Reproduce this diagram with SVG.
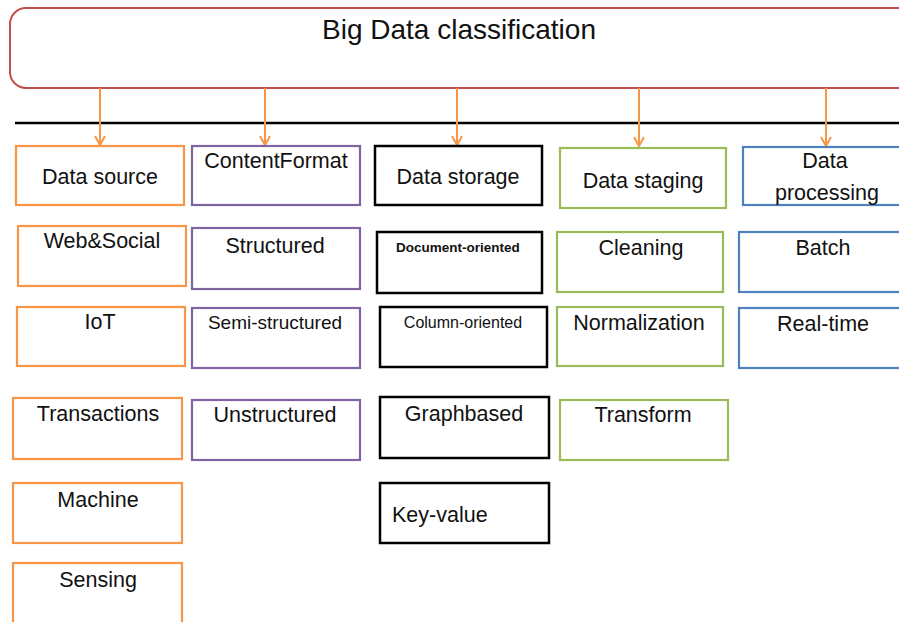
<svg xmlns="http://www.w3.org/2000/svg" width="899" height="622" viewBox="0 0 899 622">
<defs>
<marker id="arr" markerWidth="12" markerHeight="12" refX="10" refY="6" orient="auto" markerUnits="userSpaceOnUse">
<polyline points="1,1 10,6 1,11" fill="none" stroke="#f79646" stroke-width="2"/>
</marker>
<style>
rect{fill:#fff}
.or{stroke:#f79646;stroke-width:2.2}
.pu{stroke:#8064a2;stroke-width:2.2}
.bk{stroke:#000;stroke-width:2.5}
.gr{stroke:#9bbb59;stroke-width:2.2}
.bl{stroke:#4f81bd;stroke-width:2.2}
text{font-family:"Liberation Sans",Arial,sans-serif;font-size:21.5px;fill:#111;text-anchor:middle}
.conn{stroke:#f79646;stroke-width:2;fill:none}
</style>
</defs>
<rect width="899" height="622" fill="#fff"/>
<g id="title">
<rect x="10" y="8" width="920" height="80" rx="16" ry="16" style="fill:#fff;stroke:#c0504d;stroke-width:2"/>
<text x="459" y="39" style="font-size:28px">Big Data classification</text>
</g>
<line x1="15" y1="123" x2="899" y2="123" stroke="#000" stroke-width="2.5"/>
<g id="connectors">
<line class="conn" x1="100" y1="88" x2="100" y2="145" marker-end="url(#arr)"/>
<line class="conn" x1="265" y1="88" x2="265" y2="145" marker-end="url(#arr)"/>
<line class="conn" x1="457" y1="88" x2="457" y2="145" marker-end="url(#arr)"/>
<line class="conn" x1="639" y1="88" x2="639" y2="146" marker-end="url(#arr)"/>
<line class="conn" x1="826" y1="88" x2="826" y2="146" marker-end="url(#arr)"/>
</g>
<g id="data-source"><rect class="or" x="16" y="146" width="168" height="59"/><text x="100" y="184">Data source</text></g>
<g id="web-social"><rect class="or" x="18" y="226" width="168" height="60"/><text x="102" y="248">Web&amp;Social</text></g>
<g id="iot"><rect class="or" x="17" y="307" width="168" height="59"/><text x="100" y="329">IoT</text></g>
<g id="transactions"><rect class="or" x="13" y="398" width="169" height="61"/><text x="98" y="421">Transactions</text></g>
<g id="machine"><rect class="or" x="13" y="483" width="169" height="60"/><text x="98" y="507">Machine</text></g>
<g id="sensing"><rect class="or" x="13" y="563" width="169" height="70"/><text x="98" y="587">Sensing</text></g>

<g id="content-format"><rect class="pu" x="192" y="146" width="168" height="59"/><text x="276" y="168">ContentFormat</text></g>
<g id="structured"><rect class="pu" x="192" y="228" width="168" height="61"/><text x="275" y="253">Structured</text></g>
<g id="semi-structured"><rect class="pu" x="192" y="308" width="168" height="60"/><text x="275" y="329" style="font-size:19px">Semi-structured</text></g>
<g id="unstructured"><rect class="pu" x="192" y="400" width="168" height="60"/><text x="275" y="422">Unstructured</text></g>

<g id="data-storage"><rect class="bk" x="375" y="146" width="167" height="59"/><text x="458" y="184">Data storage</text></g>
<g id="document-oriented"><rect class="bk" x="377" y="232" width="165" height="61"/><text x="458" y="252" style="font-size:13.5px;font-weight:bold">Document-oriented</text></g>
<g id="column-oriented"><rect class="bk" x="380" y="307" width="167" height="60"/><text x="463" y="328" style="font-size:16px">Column-oriented</text></g>
<g id="graphbased"><rect class="bk" x="380" y="397" width="169" height="61"/><text x="464" y="421">Graphbased</text></g>
<g id="key-value"><rect class="bk" x="380" y="483" width="169" height="60"/><text x="392" y="522" style="text-anchor:start">Key-value</text></g>

<g id="data-staging"><rect class="gr" x="560" y="148" width="166" height="60"/><text x="643" y="188">Data staging</text></g>
<g id="cleaning"><rect class="gr" x="557" y="232" width="166" height="60"/><text x="641" y="255">Cleaning</text></g>
<g id="normalization"><rect class="gr" x="557" y="307" width="166" height="59"/><text x="639" y="330">Normalization</text></g>
<g id="transform"><rect class="gr" x="560" y="400" width="168" height="60"/><text x="643" y="422">Transform</text></g>

<g id="data-processing"><rect class="bl" x="743" y="147" width="170" height="58"/><text x="825" y="168">Data</text><text x="827" y="200">processing</text></g>
<g id="batch"><rect class="bl" x="739" y="232" width="174" height="60"/><text x="823" y="255">Batch</text></g>
<g id="real-time"><rect class="bl" x="739" y="308" width="174" height="60"/><text x="823" y="331">Real-time</text></g>
</svg>
